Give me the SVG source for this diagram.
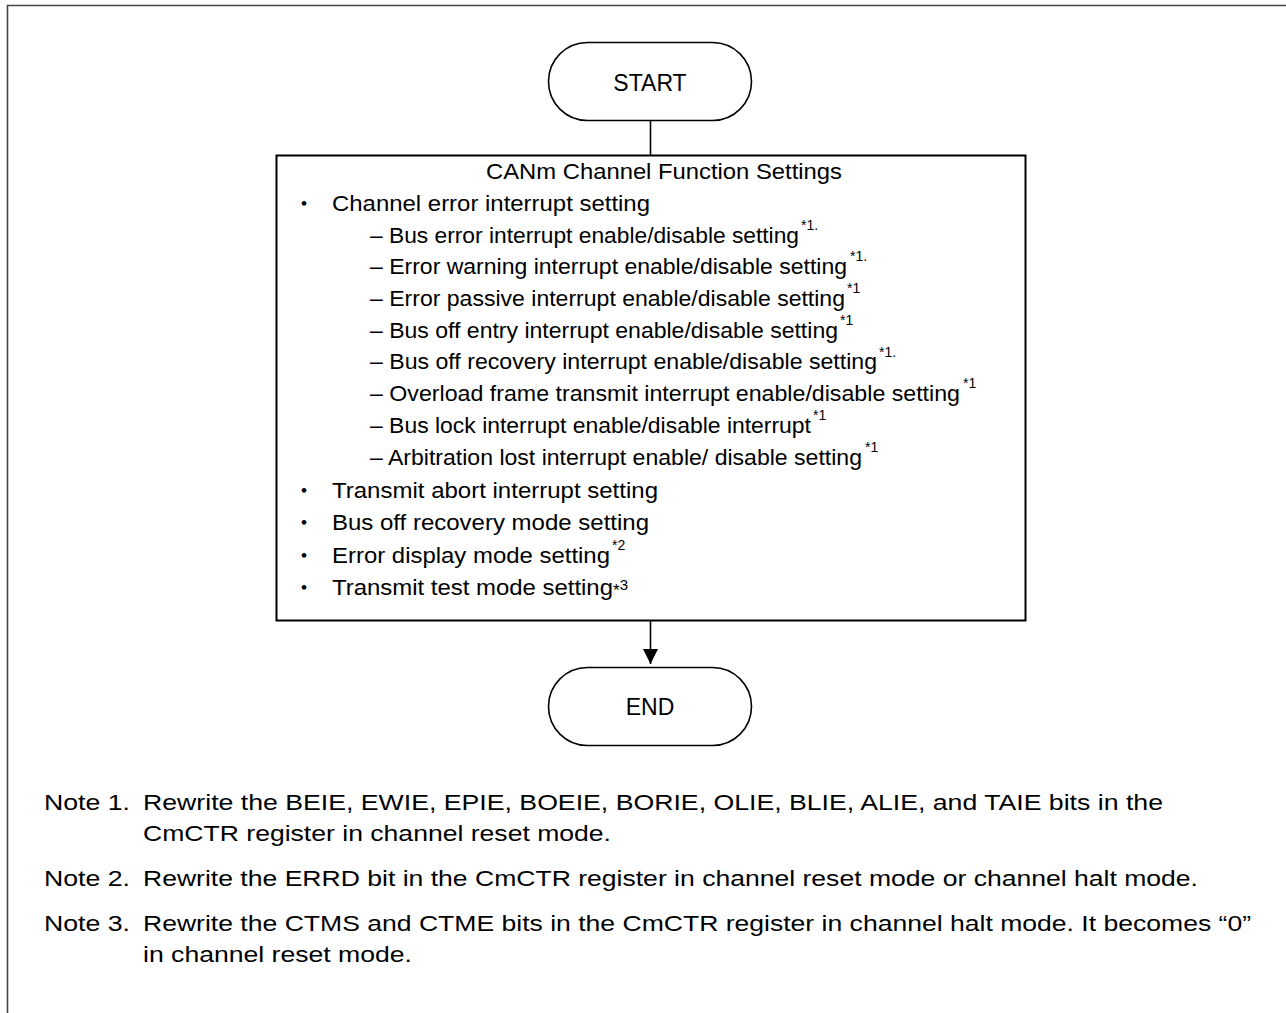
<svg xmlns="http://www.w3.org/2000/svg" width="1286" height="1013" viewBox="0 0 1286 1013">
<defs>
<marker id="arr" markerWidth="15" markerHeight="15" refX="15" refY="7.5" orient="auto" markerUnits="userSpaceOnUse">
<path d="M0,0 L15,7.5 L0,15 Z" fill="#000"/>
</marker>
<style>
.t{font-family:"Liberation Sans",Arial,sans-serif;font-size:22px;fill:#000}
.n{font-family:"Liberation Sans",Arial,sans-serif;font-size:22px;fill:#000}
.s{font-family:"Liberation Sans",Arial,sans-serif;font-size:14px;fill:#000}
.b{font-family:"Noto Sans CJK JP",sans-serif;font-size:22px;fill:#000}
.term{fill:#fff;stroke:#000;stroke-width:1.6}
.box{fill:#fff;stroke:#000;stroke-width:2}
.lbl{font-family:"Liberation Sans",Arial,sans-serif;font-size:23px;fill:#000;text-anchor:middle}
</style>
</defs>
<rect width="1286" height="1013" fill="#fff"/>
<path d="M7.5,1013 V5.5 H1286" fill="none" stroke="#444" stroke-width="1.6"/>

<g id="connectors" stroke="#000" stroke-width="1.6" fill="none">
<line x1="650.5" y1="120" x2="650.5" y2="155"/>
<line x1="650.5" y1="621" x2="650.5" y2="664" marker-end="url(#arr)"/>
</g>

<g id="start">
<rect class="term" x="548.5" y="42.5" width="203" height="78" rx="39"/>
<text class="lbl" x="650" y="91">START</text>
</g>

<g id="settings">
<rect class="box" x="276.5" y="155.5" width="749" height="465"/>
<text class="t" x="486" y="179" textLength="356" lengthAdjust="spacingAndGlyphs">CANm Channel Function Settings</text>
<text class="b" x="293" y="211">・</text>
<text class="t" x="332" y="211" textLength="318" lengthAdjust="spacingAndGlyphs">Channel error interrupt setting</text>
<text class="t" x="370" y="243" textLength="429" lengthAdjust="spacingAndGlyphs">– Bus error interrupt enable/disable setting</text>
<text class="s" x="801" y="230">*1.</text>
<text class="t" x="370" y="274" textLength="477" lengthAdjust="spacingAndGlyphs">– Error warning interrupt enable/disable setting</text>
<text class="s" x="850" y="261">*1.</text>
<text class="t" x="370" y="306" textLength="475" lengthAdjust="spacingAndGlyphs">– Error passive interrupt enable/disable setting</text>
<text class="s" x="847" y="293">*1</text>
<text class="t" x="370" y="338" textLength="468" lengthAdjust="spacingAndGlyphs">– Bus off entry interrupt enable/disable setting</text>
<text class="s" x="840" y="325">*1</text>
<text class="t" x="370" y="369" textLength="507" lengthAdjust="spacingAndGlyphs">– Bus off recovery interrupt enable/disable setting</text>
<text class="s" x="879" y="357">*1.</text>
<text class="t" x="370" y="401" textLength="590" lengthAdjust="spacingAndGlyphs">– Overload frame transmit interrupt enable/disable setting</text>
<text class="s" x="963" y="388">*1</text>
<text class="t" x="370" y="433" textLength="441" lengthAdjust="spacingAndGlyphs">– Bus lock interrupt enable/disable interrupt</text>
<text class="s" x="813" y="420">*1</text>
<text class="t" x="370" y="465" textLength="492" lengthAdjust="spacingAndGlyphs">– Arbitration lost interrupt enable/ disable setting</text>
<text class="s" x="865" y="452">*1</text>
<text class="b" x="293" y="498">・</text>
<text class="t" x="332" y="498" textLength="326" lengthAdjust="spacingAndGlyphs">Transmit abort interrupt setting</text>
<text class="b" x="293" y="530">・</text>
<text class="t" x="332" y="530" textLength="317" lengthAdjust="spacingAndGlyphs">Bus off recovery mode setting</text>
<text class="b" x="293" y="563">・</text>
<text class="t" x="332" y="563" textLength="278" lengthAdjust="spacingAndGlyphs">Error display mode setting</text>
<text class="s" x="612" y="550">*2</text>
<text class="b" x="293" y="595">・</text>
<text class="t" x="332" y="595" textLength="281" lengthAdjust="spacingAndGlyphs">Transmit test mode setting</text>
<text class="s" x="613" y="596"><tspan font-size="17">*</tspan><tspan y="590" font-size="15">3</tspan></text>
</g>

<g id="end">
<rect class="term" x="548.5" y="667.5" width="203" height="78" rx="39"/>
<text class="lbl" x="650" y="715">END</text>
</g>

<g id="notes">
<text class="n" x="44" y="810" textLength="86" lengthAdjust="spacingAndGlyphs">Note 1.</text>
<text class="n" x="143" y="810" textLength="1020" lengthAdjust="spacingAndGlyphs">Rewrite the BEIE, EWIE, EPIE, BOEIE, BORIE, OLIE, BLIE, ALIE, and TAIE bits in the</text>
<text class="n" x="143" y="841" textLength="468" lengthAdjust="spacingAndGlyphs">CmCTR register in channel reset mode.</text>
<text class="n" x="44" y="886" textLength="86" lengthAdjust="spacingAndGlyphs">Note 2.</text>
<text class="n" x="143" y="886" textLength="1055" lengthAdjust="spacingAndGlyphs">Rewrite the ERRD bit in the CmCTR register in channel reset mode or channel halt mode.</text>
<text class="n" x="44" y="931" textLength="86" lengthAdjust="spacingAndGlyphs">Note 3.</text>
<text class="n" x="143" y="931" textLength="1108" lengthAdjust="spacingAndGlyphs">Rewrite the CTMS and CTME bits in the CmCTR register in channel halt mode. It becomes “0”</text>
<text class="n" x="143" y="962" textLength="269" lengthAdjust="spacingAndGlyphs">in channel reset mode.</text>
</g>
</svg>
